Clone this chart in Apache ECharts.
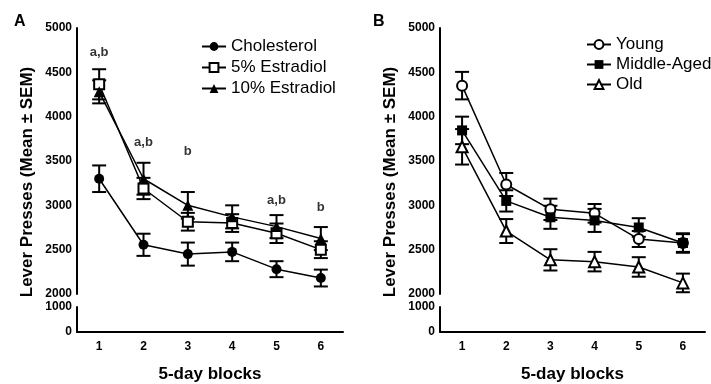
<!doctype html>
<html>
<head>
<meta charset="utf-8">
<title>Lever presses</title>
<script src="https://cdn.jsdelivr.net/npm/echarts@6/dist/echarts.min.js"></script>
<style>
    html,body{ margin:0; padding:0; background:#fff; }
    #chart{ width:711px; height:384px; }
</style>
</head>
<body>
<div id="chart"></div>
<script>
    // 5-day blocks
    var blocks = ['1', '2', '3', '4', '5', '6'];

    // panel A : hormone groups
    var cholMean  = [3300, 2555, 2450, 2475, 2280, 2180];
    var cholSem   = [150, 125, 130, 105, 90, 95];
    var e5Mean    = [4365, 3190, 2815, 2800, 2685, 2500];
    var e5Sem     = [170, 120, 100, 100, 110, 95];
    var e10Mean   = [4280, 3300, 3000, 2870, 2760, 2625];
    var e10Sem    = [130, 180, 150, 130, 130, 130];
    var annotText = ['a,b', 'a,b', 'b', '', 'a,b', 'b'];
    var annotY    = [4730, 3715, 3610, 0, 3050, 2980];

    // panel B : age groups
    var youngMean = [4350, 3235, 2955, 2910, 2620, 2575];
    var youngSem  = [155, 130, 120, 105, 90, 100];
    var midMean   = [3845, 3050, 2865, 2830, 2750, 2575];
    var midSem    = [155, 120, 130, 130, 105, 110];
    var oldMean   = [3660, 2710, 2385, 2365, 2305, 2125];
    var oldSem    = [200, 135, 120, 110, 110, 105];

    var upperTicks = {min: 2000, max: 5000, interval: 500};
    var lowerTicks = {min: 0, max: 1000, interval: 1000};

    var txtFont = 'Liberation Sans, Arial, sans-serif';

    function errData(mean, sem){
        return mean.map(function(v, i){ return [i, v - sem[i], v + sem[i]]; });
    }

    function errRender(params, api){
        var lo = api.coord([api.value(0), api.value(1)]);
        var hi = api.coord([api.value(0), api.value(2)]);
        var w = 7;
        var st = {stroke: '#000', lineWidth: 2};
        return {
            type: 'group',
            children: [
                {type: 'line', shape: {x1: lo[0], y1: lo[1], x2: hi[0], y2: hi[1]}, style: st},
                {type: 'line', shape: {x1: lo[0]-w, y1: lo[1], x2: lo[0]+w, y2: lo[1]}, style: st},
                {type: 'line', shape: {x1: hi[0]-w, y1: hi[1], x2: hi[0]+w, y2: hi[1]}, style: st}
            ]
        };
    }

    function lineSeries(name, data, idx, symbol, filled){
        return {
            name: name, type: 'line', xAxisIndex: idx, yAxisIndex: idx,
            data: data, symbol: symbol, symbolSize: symbol === 'triangle' ? 11 : 10,
            lineStyle: {color: '#000', width: 1.5},
            itemStyle: {color: filled ? '#000' : '#fff', borderColor: '#000', borderWidth: filled ? 0 : 2},
            z: 3
        };
    }

    function errSeries(mean, sem, idx){
        return {
            type: 'custom', xAxisIndex: idx, yAxisIndex: idx,
            data: errData(mean, sem), renderItem: errRender, z: 2, silent: true
        };
    }

    var yLabel = {fontWeight: 'bold', fontSize: 12, color: '#000', fontFamily: txtFont, margin: 5,
                  formatter: function(v){ return String(v); }};
    var axLine = {lineStyle: {color: '#000', width: 2}};
    var axTick = {length: 5, lineStyle: {color: '#000', width: 2}};

    var grids = [
        {left: 77, top: 28, width: 266, height: 266},
        {left: 77, top: 307, width: 266, height: 30},
        {left: 440, top: 28, width: 265, height: 266},
        {left: 440, top: 307, width: 265, height: 30}
    ];

    var xAxes = [], yAxes = [];
    grids.forEach(function(g, i){
        var lower = (i % 2 === 1);
        xAxes.push({
            type: 'category', gridIndex: i, data: blocks, show: lower,
            axisLine: axLine, axisTick: {alignWithLabel: true, length: 4, lineStyle: {color: '#000', width: 2}},
            axisLabel: {fontWeight: 'bold', fontSize: 12, color: '#000', fontFamily: txtFont, margin: 9},
            name: lower ? '5-day blocks' : '', nameLocation: 'middle', nameGap: 34,
            nameTextStyle: {fontWeight: 'bold', fontSize: 17, color: '#000', fontFamily: txtFont}
        });
        var t = lower ? lowerTicks : upperTicks;
        yAxes.push({
            type: 'value', gridIndex: i, min: t.min, max: t.max, interval: t.interval,
            splitLine: {show: false}, axisLine: {show: true, lineStyle: {color: '#000', width: 2}},
            axisTick: axTick, axisLabel: yLabel
        });
    });

    var legendText = {fontSize: 17, color: '#000', fontFamily: txtFont};

    var option = {
        backgroundColor: '#fff',
        animation: false,
        grid: grids,
        xAxis: xAxes,
        yAxis: yAxes,
        legend: [
            {data: ['Cholesterol', '5% Estradiol', '10% Estradiol'], orient: 'vertical',
             left: 196, top: 33, itemWidth: 24, itemHeight: 11, itemGap: 4, textStyle: legendText},
            {data: ['Young', 'Middle-Aged', 'Old'], orient: 'vertical',
             left: 581, top: 31, itemWidth: 24, itemHeight: 11, itemGap: 3, textStyle: legendText}
        ],
        graphic: [
            {type: 'text', left: 14, top: 14, style: {text: 'A', font: 'bold 16px ' + txtFont, fill: '#000'}},
            {type: 'text', left: 373, top: 14, style: {text: 'B', font: 'bold 16px ' + txtFont, fill: '#000'}},
            {type: 'text', x: 27, y: 182, rotation: Math.PI / 2,
             style: {text: 'Lever Presses (Mean \u00b1 SEM)', font: 'bold 17px ' + txtFont, fill: '#000',
                     align: 'center', verticalAlign: 'middle'}},
            {type: 'text', x: 390, y: 182, rotation: Math.PI / 2,
             style: {text: 'Lever Presses (Mean \u00b1 SEM)', font: 'bold 17px ' + txtFont, fill: '#000',
                     align: 'center', verticalAlign: 'middle'}}
        ],
        series: [
            errSeries(cholMean, cholSem, 0),
            errSeries(e5Mean, e5Sem, 0),
            errSeries(e10Mean, e10Sem, 0),
            lineSeries('Cholesterol', cholMean, 0, 'circle', true),
            lineSeries('5% Estradiol', e5Mean, 0, 'rect', false),
            lineSeries('10% Estradiol', e10Mean, 0, 'triangle', true),
            {
                type: 'scatter', xAxisIndex: 0, yAxisIndex: 0, symbolSize: 0, silent: true,
                data: annotY.map(function(v, i){ return {value: [i, v], label: {formatter: annotText[i]}}; }),
                label: {show: true, position: 'inside', fontWeight: 'bold', fontSize: 13, color: '#000', fontFamily: txtFont}
            },
            errSeries(youngMean, youngSem, 2),
            errSeries(midMean, midSem, 2),
            errSeries(oldMean, oldSem, 2),
            lineSeries('Young', youngMean, 2, 'circle', false),
            lineSeries('Middle-Aged', midMean, 2, 'rect', true),
            lineSeries('Old', oldMean, 2, 'triangle', false)
        ]
    };

    var chart = echarts.init(document.getElementById('chart'));
    chart.setOption(option);
</script>
</body>
</html>
